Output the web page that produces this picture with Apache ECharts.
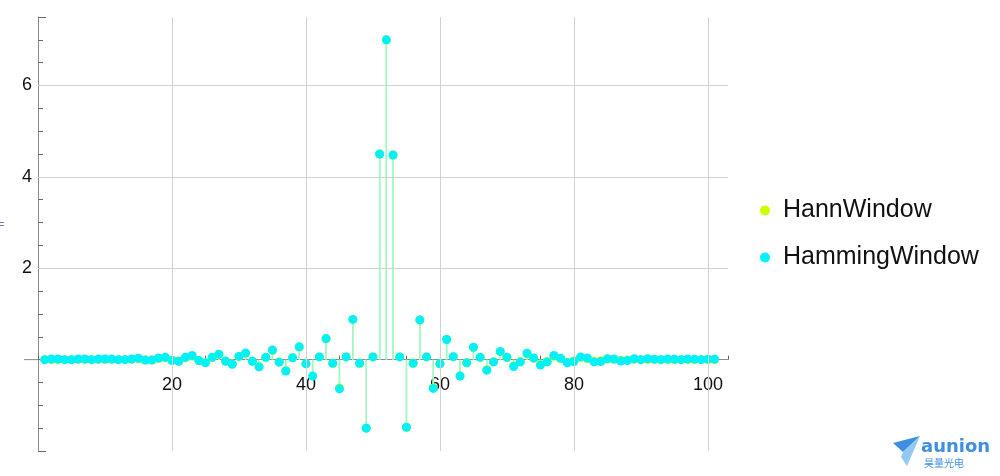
<!DOCTYPE html>
<html>
<head>
<meta charset="utf-8">
<script src="https://cdn.jsdelivr.net/npm/echarts@6/dist/echarts.min.js"></script>
<style>
html,body{margin:0;padding:0;background:#fff;}
#chart{width:1000px;height:476px;}
</style>
</head>
<body>
<div id="chart"></div>
<script>
// Hamming-windowed filter taps (index 1..101)
const hammingValues = [
  0.00, 0.015, 0.015, 0.00, 0.00, 0.015, 0.015, 0.00, 0.015, 0.015,
  0.015, 0.00, 0.00, 0.015, 0.03, -0.01, -0.01, 0.035, 0.05, -0.02,
  -0.035, 0.05, 0.09, -0.02, -0.07, 0.05, 0.12, -0.035, -0.10, 0.07,
  0.145, -0.035, -0.16, 0.05, 0.21, -0.055, -0.25, 0.04, 0.28, -0.09,
  -0.36, 0.06, 0.46, -0.08, -0.64, 0.06, 0.88, -0.08, -1.50, 0.06,
  4.50, 7.00, 4.48, 0.06, -1.48, -0.08, 0.87, 0.06, -0.63, -0.09,
  0.44, 0.065, -0.36, -0.07, 0.27, 0.05, -0.23, -0.05, 0.18, 0.05,
  -0.15, -0.05, 0.14, 0.035, -0.12, -0.05, 0.09, 0.03, -0.07, -0.04,
  0.06, 0.035, -0.05, -0.04, 0.02, 0.015, -0.03, -0.02, 0.02, 0.00,
  0.02, 0.01, 0.00, 0.015, 0.01, 0.00, 0.015, 0.01, 0.00, 0.01, 0.01
];
// Hann-windowed filter taps (index 1..101)
const hannValues = [
  0.00, 0.00, 0.00, 0.00, 0.00, 0.005, 0.005, 0.00, 0.005, 0.007,
  0.008, 0.00, 0.00, 0.01, 0.02, -0.007, -0.007, 0.025, 0.04, -0.016,
  -0.03, 0.042, 0.08, -0.018, -0.063, 0.046, 0.11, -0.032, -0.093, 0.066,
  0.138, -0.033, -0.153, 0.048, 0.205, -0.054, -0.245, 0.04, 0.276, -0.089,
  -0.357, 0.06, 0.458, -0.08, -0.62, 0.06, 0.88, -0.08, -1.50, 0.06,
  4.50, 7.00, 4.48, 0.06, -1.48, -0.08, 0.87, 0.06, -0.62, -0.089,
  0.438, 0.064, -0.355, -0.068, 0.265, 0.048, -0.223, -0.048, 0.172, 0.047,
  -0.14, -0.046, 0.128, 0.031, -0.105, -0.042, 0.075, 0.024, -0.055, -0.03,
  0.044, 0.024, -0.033, -0.025, 0.012, 0.009, -0.016, -0.01, 0.009, 0.00,
  0.008, 0.004, 0.00, 0.004, 0.002, 0.00, 0.002, 0.001, 0.00, 0.00, 0.00
];
const seriesNames = ['HannWindow', 'HammingWindow'];
const xTickLabels = [20, 40, 60, 80, 100];
const yTickLabels = [2, 4, 6];

const indices = hammingValues.map((_, i) => i + 1);
const hannData = indices.map((x, i) => [x, hannValues[i]]);
const hammingData = indices.map((x, i) => [x, hammingValues[i]]);

const FONT = "'Liberation Sans', Arial, sans-serif";
const stemColor = '#a6f5c6';

const GRID = { left: 38, right: 272, top: 17, bottom: 25 };
const Y_MIN = -2, Y_MAX = 7.5;
const gridHeight = 476 - GRID.top - GRID.bottom;
// move the x axis up from the grid bottom to the y = 0 line
const xAxisOffset = -gridHeight * (0 - Y_MIN) / (Y_MAX - Y_MIN);

function stemRender(params, api) {
  const x = api.value(0), y = api.value(1);
  const p0 = api.coord([x, 0]);
  const p1 = api.coord([x, y]);
  return {
    type: 'line',
    shape: { x1: p0[0], y1: p0[1], x2: p1[0], y2: p1[1] },
    style: { stroke: stemColor, lineWidth: 1.5 }
  };
}

const chart = echarts.init(document.getElementById('chart'), null, { renderer: 'canvas' });

const option = {
  animation: false,
  backgroundColor: '#ffffff',
  grid: Object.assign({ containLabel: false, outerBoundsMode: 'none' }, GRID),
  xAxis: {
    type: 'value', min: 0, max: 103, interval: 20, position: 'bottom', offset: xAxisOffset,
    axisLine: { onZero: false, lineStyle: { color: '#8a8a8a', width: 1 } },
    axisTick: { show: true, inside: true, length: 4, lineStyle: { color: '#666' } },
    minorTick: { show: true, splitNumber: 4, length: 4, lineStyle: { color: '#666' } },
    splitLine: { show: false },
    axisLabel: {
      margin: 16, fontSize: 18, color: '#111', fontFamily: FONT,
      formatter: v => (xTickLabels.indexOf(v) >= 0 ? String(v) : '')
    }
  },
  yAxis: {
    type: 'value', min: Y_MIN, max: Y_MAX, interval: 2,
    axisLine: { show: true, onZero: false, lineStyle: { color: '#8a8a8a', width: 1 } },
    axisTick: { show: true, inside: true, length: 8, lineStyle: { color: '#666' } },
    minorTick: { show: true, splitNumber: 4, length: 5, lineStyle: { color: '#666' } },
    splitLine: { show: false },
    axisLabel: {
      margin: 6, fontSize: 18, color: '#111', fontFamily: FONT,
      formatter: v => (yTickLabels.indexOf(v) >= 0 ? String(v) : '')
    }
  },
  legend: {
    orient: 'vertical', left: 755, top: 193, itemGap: 22,
    icon: 'circle', itemWidth: 10, itemHeight: 10,
    data: seriesNames,
    textStyle: { fontSize: 25, color: '#111', fontFamily: FONT, lineHeight: 25, padding: [0, 0, 0, 8] }
  },
  series: [
    {
      name: 'grid', type: 'line', data: [], z: 1, silent: true,
      markLine: {
        silent: true, symbol: 'none', label: { show: false },
        lineStyle: { color: '#d2d2d2', width: 1, type: 'solid' },
        data: xTickLabels.map(v => ({ xAxis: v })).concat(yTickLabels.map(v => ({ yAxis: v })))
      }
    },
    { name: 'hannStem', type: 'custom', renderItem: stemRender, data: hannData, z: 2, silent: true },
    { name: 'hammingStem', type: 'custom', renderItem: stemRender, data: hammingData, z: 2, silent: true },
    {
      name: seriesNames[0], type: 'scatter', data: hannData, symbol: 'circle', symbolSize: 9, z: 3,
      itemStyle: { color: '#ccff00', opacity: 1 }
    },
    {
      name: seriesNames[1], type: 'scatter', data: hammingData, symbol: 'circle', symbolSize: 9, z: 4,
      itemStyle: { color: '#00f2f8', opacity: 1 }
    }
  ]
};
chart.setOption(option);

const origin = chart.convertToPixel({ gridIndex: 0 }, [0, 0]);
chart.setOption({
  graphic: [
    { type: 'line', shape: { x1: origin[0] - 14, y1: origin[1], x2: origin[0], y2: origin[1] },
      style: { stroke: '#8a8a8a', lineWidth: 1 }, z: 5 },
    { type: 'text', left: -3, top: 218, style: { text: '=', fontSize: 13, fill: '#5b80b4', fontFamily: FONT } },
    { type: 'polygon', shape: { points: [[893, 443], [920, 436], [903, 452]] }, style: { fill: '#3f8fe0' } },
    { type: 'polygon', shape: { points: [[903, 452], [920, 436], [907, 466], [901, 457]] }, style: { fill: '#93c9f0' } },
    { type: 'text', left: 921, top: 438, style: { text: 'aunion', fontSize: 18, fontWeight: 'bold', fill: '#3f8fe0', fontFamily: "'DejaVu Sans', sans-serif" } },
    { type: 'text', left: 924, top: 458, style: { text: '昊量光电', fontSize: 10, fill: '#3f8fe0', fontFamily: "'Noto Sans CJK SC', sans-serif" } }
  ]
});
</script>
</body>
</html>
